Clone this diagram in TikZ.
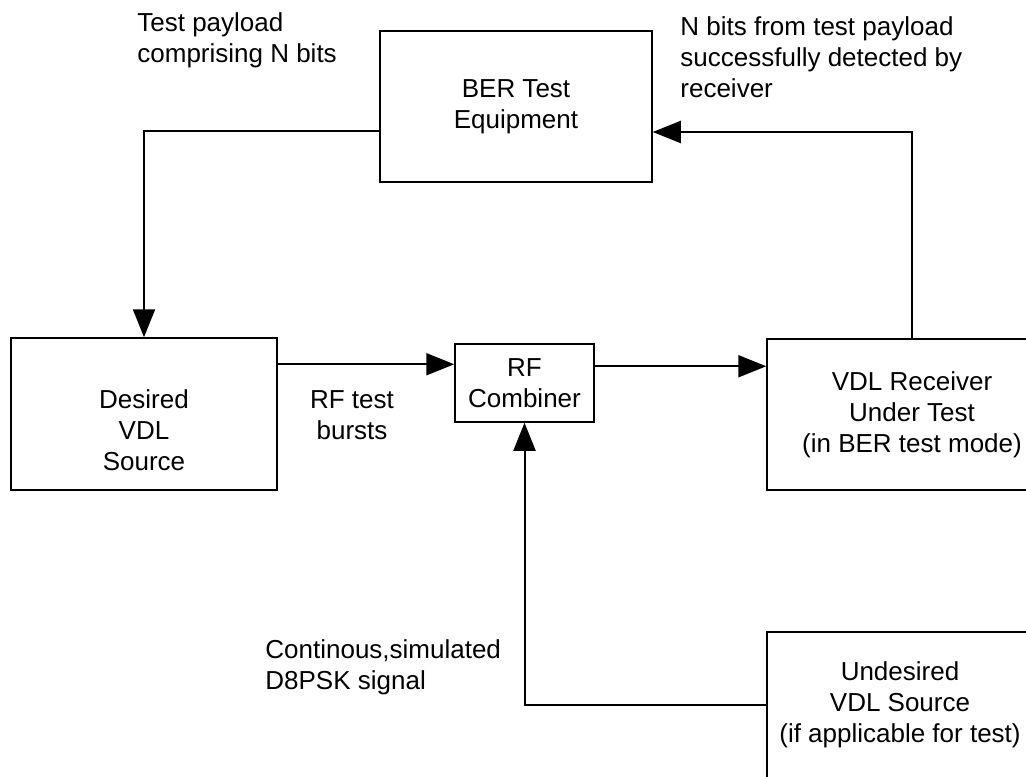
\documentclass[tikz,border=0pt]{standalone}
\usepackage{fontspec}
\setmainfont{Liberation Sans}
\usetikzlibrary{positioning, arrows.meta}

\begin{document}
\begin{tikzpicture}[x=0.5pt, y=-0.5pt,
	every node/.style={font=\fontsize{13}{15.5}\selectfont, align=center},
	unit/.style={rectangle, draw, line width=0.75pt, inner sep=0pt},
	lbl/.style={align=left, anchor=west, inner sep=0pt},
	arr/.style={-{Triangle[length=14pt, width=11pt]}, line width=1pt}
	]
\useasboundingbox (0,0) rectangle (1026,776);
\clip (0,0) rectangle (1026,776);

\node[unit, minimum width=136pt, minimum height=75.5pt] (ber) at (516,106.5) {BER Test\\Equipment};
\node[unit, minimum width=133pt, minimum height=76pt] (desired) at (144,414) {};
\node (desiredtxt) at ([yshift=-8pt]desired.center) {Desired\\VDL\\Source};
\node[unit, minimum width=69.5pt, minimum height=39pt] (comb) at (524.5,383) {RF\\Combiner};
\node[unit, minimum width=145pt, minimum height=75.5pt] (rx) at (912,414.5) {VDL Receiver\\Under Test\\(in BER test mode)};
\node[unit, minimum width=133pt, minimum height=73pt] (undes) at (900,705) {Undesired\\VDL Source\\(if applicable for test)};

\node[lbl] (payload) at (137,40) {Test payload\\comprising N bits};
\node[lbl] (detected) at (680,57.5) {N bits from test payload\\successfully detected by\\receiver};
\node (bursts) at (352,415) {RF test\\bursts};
\node[lbl] (signal) at (265,667.5) {Continous,simulated\\D8PSK signal};

\coordinate (rfin) at ([yshift=-10.5pt]comb.north west);
\coordinate (rfout) at ([yshift=-11.5pt]comb.north east);

\draw[arr] ([yshift=-12pt]ber.west) -| (desired.north);
\draw[arr] (desired.east |- rfin) -- (rfin);
\draw[arr] (rfout) -- (rx.west |- rfout);
\draw[arr] (rx.north) |- ([yshift=-12.75pt]ber.east);
\draw[arr] (undes.west) -| (comb.south);

\end{tikzpicture}
\end{document}
